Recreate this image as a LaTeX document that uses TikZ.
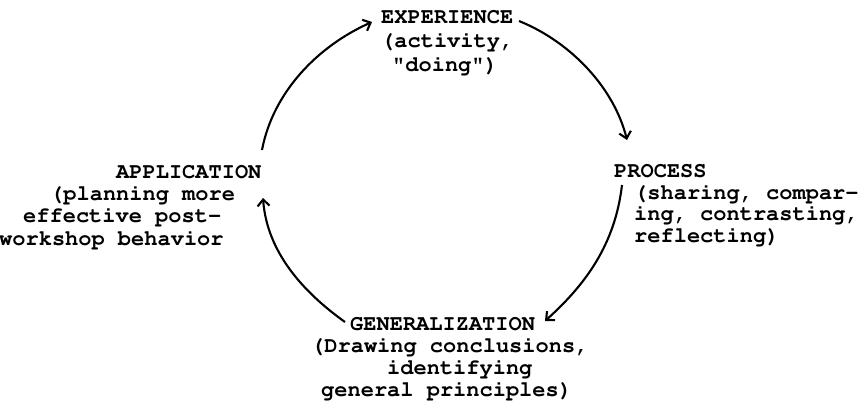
\documentclass[tikz,border=0pt]{standalone}
\usepackage[T1]{fontenc}
\usetikzlibrary{arrows.meta}
\begin{document}
\begin{tikzpicture}[x=1pt,y=-1pt,
  txt/.style={inner sep=0pt,anchor=base west,font=\fontfamily{pcr}\fontseries{b}\fontsize{22}{23}\selectfont},
  cyc/.style={line width=2.1pt,-{Straight Barb[length=6.5pt,width=12pt,line width=2.1pt]}}]
\useasboundingbox (0,0) rectangle (867,416);
% EXPERIENCE
\node[txt] (e1) at (381,23) {EXPERIENCE};
\node[txt] (e2) at (381,47) {(activity,};
\node[txt] (e3) at (392,71) {\textquotedbl doing\textquotedbl)};
% APPLICATION
\node[txt] (a1) at (116,178) {APPLICATION};
\node[txt] (a2) at (50,200) {(planning more};
\node[txt] (a3) at (23,222) {effective post-};
\node[txt] (a4) at (-1,245) {workshop behavior};
% PROCESS
\node[txt] (p1) at (614,177) {PROCESS};
\node[txt] (p2) at (634,199) {(sharing, compar-};
\node[txt] (p3) at (634,220) {ing, contrasting,};
\node[txt] (p4) at (634,242) {reflecting)};
% GENERALIZATION
\node[txt] (g1) at (350,330) {GENERALIZATION};
\node[txt] (g2) at (311,352) {(Drawing conclusions,};
\node[txt] (g3) at (387,374) {identifying};
\node[txt] (g4) at (321,396) {general principles)};
% connector ends
\coordinate (a1s) at (262,150);
\coordinate (e1w) at (372,22);
\coordinate (e1e) at (519,21);
\coordinate (p1n) at (627,140);
\coordinate (p1s) at (622,185);
\coordinate (g1e) at (545,321);
\coordinate (g1w) at (345,322);
\coordinate (a1e) at (263,198);
% arrows
\draw[cyc] (a1s) .. controls (273,92) and (318,46) .. (e1w);
\draw[cyc] (e1e) .. controls (571,42) and (614,88) .. (p1n);
\draw[cyc] (p1s) .. controls (615,245) and (585,285) .. (g1e);
\draw[cyc] (g1w) .. controls (303,292) and (267,252) .. (a1e);
\end{tikzpicture}
\end{document}
